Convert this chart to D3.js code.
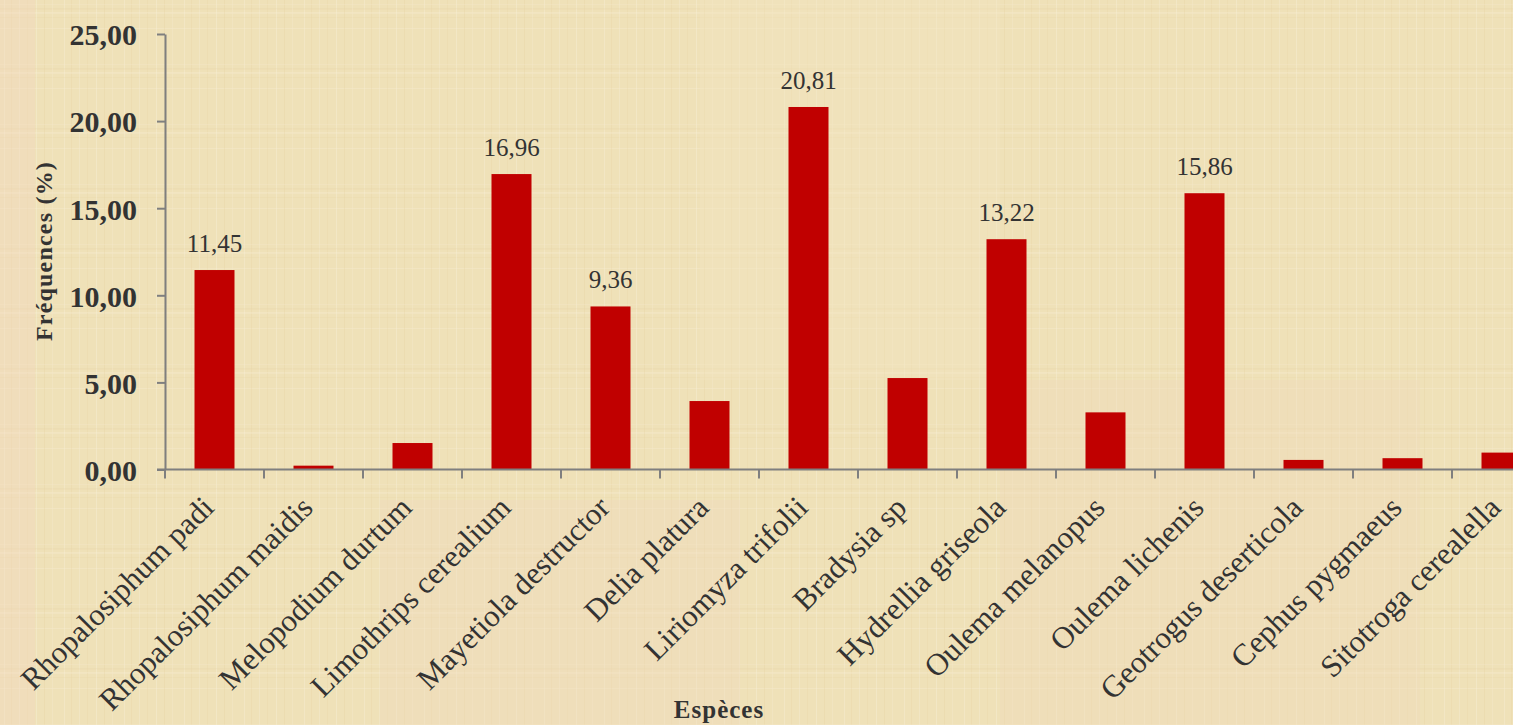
<!DOCTYPE html>
<meta charset="utf-8">
<style>
    body{ margin:0; overflow:hidden; }
    svg text{ font-family: "Liberation Serif", "Times New Roman", serif; fill:#333; }
</style>
<svg width="1513" height="725"></svg>
<script src="https://d3js.org/d3.v7.min.js"></script>
<script>

var especes = ["Rhopalosiphum padi", "Rhopalosiphum maidis", "Melopodium durtum", "Limothrips cerealium",
    "Mayetiola destructor", "Delia platura", "Liriomyza trifolii", "Bradysia sp", "Hydrellia griseola",
    "Oulema melanopus", "Oulema lichenis", "Geotrogus deserticola", "Cephus pygmaeus", "Sitotroga cerealella"];
var frequences = [11.45, 0.22, 1.52, 16.96, 9.36, 3.93, 20.81, 5.25, 13.22, 3.28, 15.86, 0.55, 0.65, 0.97];
// only these bars carry a value label in the original
var etiquettes = [true, false, false, true, true, false, true, false, true, false, true, false, false, false];
var yTicks = [0, 5, 10, 15, 20, 25];

var svg = d3.select("svg"),
    width = +svg.attr("width"),
    height = +svg.attr("height");

// parchment-ish background
var defs = svg.append("defs");
var pat = defs.append("pattern")
    .attr("id", "papier")
    .attr("patternUnits", "userSpaceOnUse")
    .attr("width", 60).attr("height", 60);
pat.append("rect").attr("width", 60).attr("height", 60).attr("fill", "#efe1b8");
[[4,"#f6ecd0",0.5],[11,"#e6d3a2",0.35],[19,"#f5ead0",0.45],[27,"#e8d6a6",0.35],[36,"#f7eed6",0.45],[44,"#e5d2a0",0.3],[52,"#f4e8ca",0.45]]
  .forEach(function(d) {
    pat.append("rect").attr("x", d[0]).attr("y", 0).attr("width", 1).attr("height", 60).attr("fill", d[1]).attr("opacity", d[2]);
    pat.append("rect").attr("x", 0).attr("y", (d[0] * 7) % 60).attr("width", 60).attr("height", 1).attr("fill", d[1]).attr("opacity", d[2] * 0.7);
  });
svg.append("rect").attr("width", width).attr("height", height).attr("fill", "url(#papier)");
var tuiles = [[0,0,35,725,"#f3d8c0"],[380,500,360,225,"#f2dbbe"],[1000,380,420,345,"#f0d9bb"],[700,0,300,380,"#f3e6c0"]];
svg.selectAll(".tuile").data(tuiles).enter().append("rect")
    .attr("class", "tuile")
    .attr("x", function(d) { return d[0]; }).attr("y", function(d) { return d[1]; })
    .attr("width", function(d) { return d[2]; }).attr("height", function(d) { return d[3]; })
    .attr("fill", function(d) { return d[4]; }).attr("opacity", 0.35);

var margeG = 165, haut = 34, bas = 469.5;

var x = d3.scaleBand()
    .domain(especes)
    .range([margeG, margeG + 99 * especes.length])
    .paddingInner(0.596)
    .paddingOuter(0.298);

var y = d3.scaleLinear()
    .domain([0, 25])
    .range([bas, haut]);

// bars
svg.append("g").selectAll("rect")
    .data(especes)
  .enter().append("rect")
    .attr("x", function(d) { return x(d); })
    .attr("y", function(d, i) { return y(frequences[i]); })
    .attr("width", x.bandwidth())
    .attr("height", function(d, i) { return y(0) - y(frequences[i]); })
    .attr("fill", "#c00000");

// value labels
svg.append("g").selectAll("text")
    .data(especes.filter(function(d, i) { return etiquettes[i]; }))
  .enter().append("text")
    .attr("x", function(d) { return x(d) + x.bandwidth() / 2; })
    .attr("y", function(d) { return y(frequences[especes.indexOf(d)]) - 18; })
    .attr("text-anchor", "middle")
    .attr("font-size", "25px")
    .text(function(d) { return frequences[especes.indexOf(d)].toFixed(2).replace(".", ","); });

// y axis
var yAxis = svg.append("g")
    .attr("transform", "translate(" + margeG + ",0)")
    .call(d3.axisLeft(y)
        .tickValues(yTicks)
        .tickSize(8)
        .tickSizeOuter(0)
        .tickPadding(20)
        .tickFormat(function(d) { return d.toFixed(2).replace(".", ","); }));
yAxis.selectAll("path, line").attr("stroke", "#7f7f7f").attr("stroke-width", 2);
yAxis.selectAll("text")
    .attr("font-family", "Liberation Serif")
    .attr("font-size", "30px")
    .attr("font-weight", "bold")
    .attr("fill", "#333")
    .attr("dy", "0.36em");

// x axis (drawn by hand: ticks at band edges)
var xAxis = svg.append("g");
xAxis.append("line")
    .attr("x1", margeG - 8).attr("x2", x.range()[1])
    .attr("y1", bas).attr("y2", bas)
    .attr("stroke", "#7f7f7f").attr("stroke-width", 2);
xAxis.selectAll(".tick")
    .data(d3.range(especes.length + 1))
  .enter().append("line")
    .attr("class", "tick")
    .attr("x1", function(i) { return margeG + i * x.step(); })
    .attr("x2", function(i) { return margeG + i * x.step(); })
    .attr("y1", bas).attr("y2", bas + 9)
    .attr("stroke", "#7f7f7f").attr("stroke-width", 2);

xAxis.selectAll(".cat")
    .data(especes)
  .enter().append("text")
    .attr("class", "cat")
    .attr("font-size", "31px")
    .attr("text-anchor", "end")
    .attr("transform", function(d) {
        return "translate(" + (x(d) + x.bandwidth() / 2 + 1) + "," + (bas + 40) + ") rotate(-45)";
    })
    .text(function(d) { return d; });

// titles
svg.append("text")
    .attr("transform", "translate(52,251) rotate(-90)")
    .attr("text-anchor", "middle")
    .attr("font-size", "24px")
    .attr("letter-spacing", "1.2px")
    .attr("font-weight", "bold")
    .text("Fréquences (%)");

svg.append("text")
    .attr("x", 719)
    .attr("y", 718)
    .attr("text-anchor", "middle")
    .attr("font-size", "25px")
    .attr("letter-spacing", "1px")
    .attr("font-weight", "bold")
    .text("Espèces");

</script>
